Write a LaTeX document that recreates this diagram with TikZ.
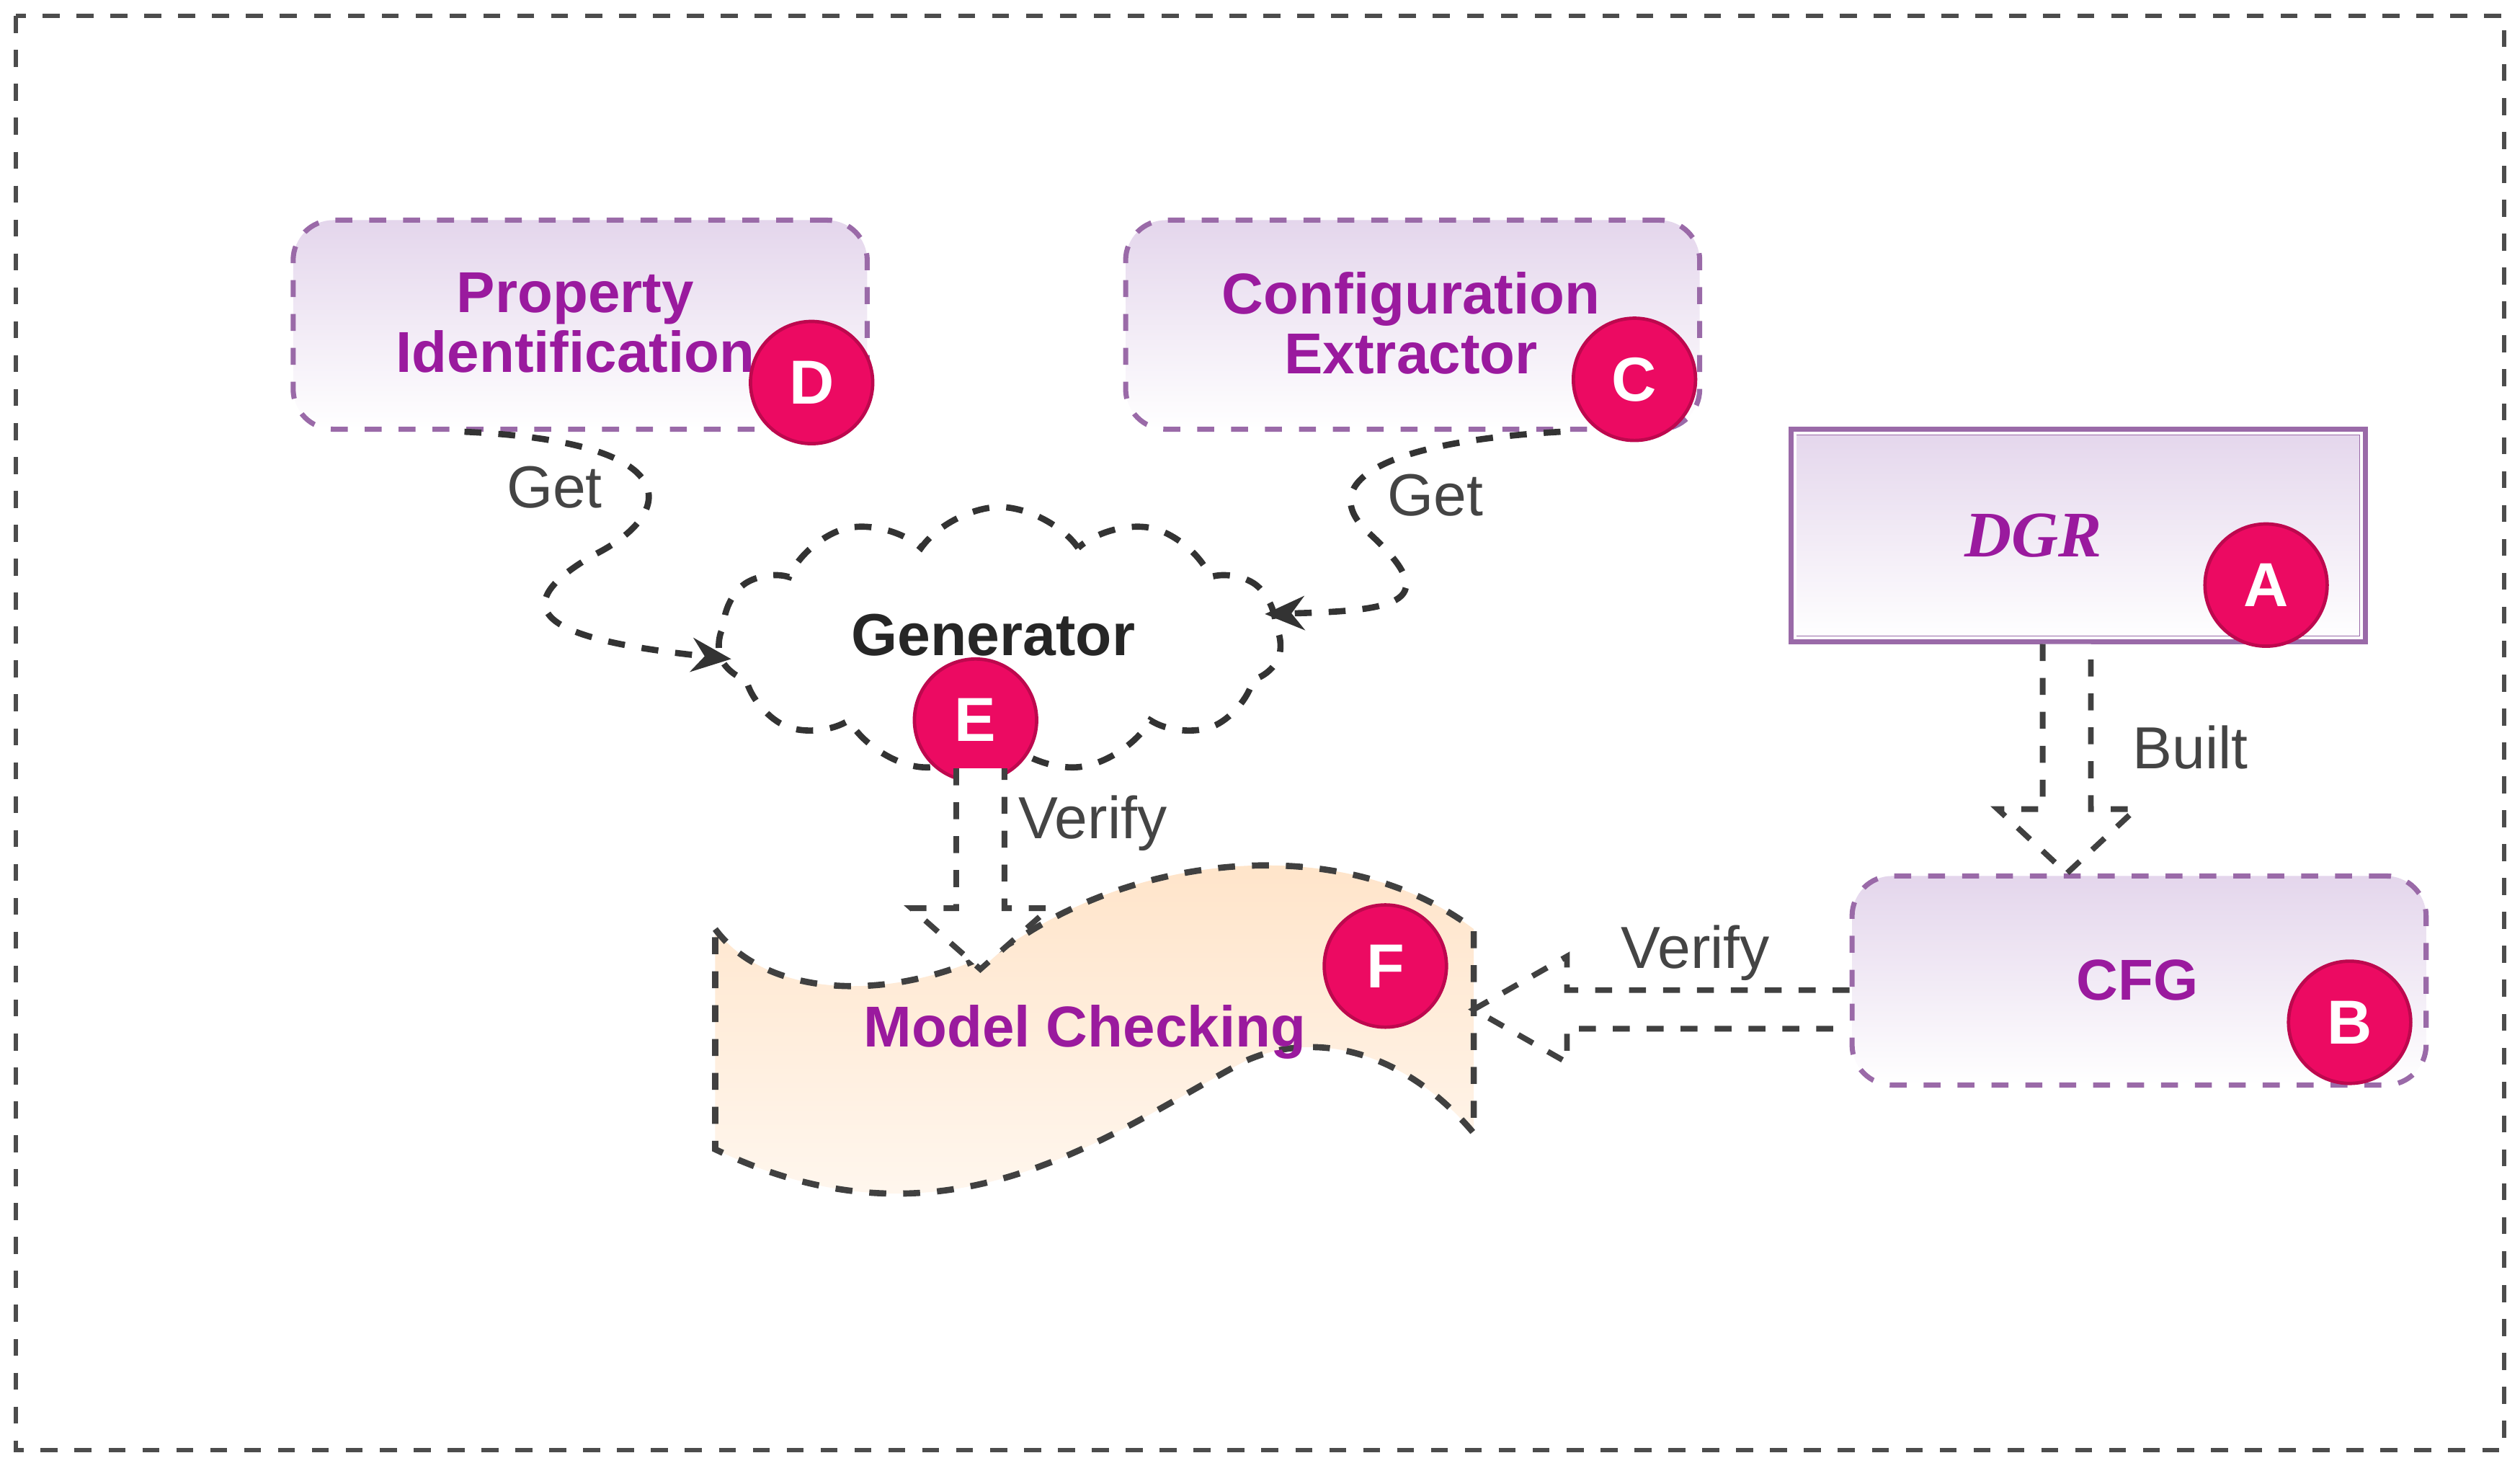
\documentclass[tikz,border=0pt]{standalone}
\usepackage{fontspec}
\setmainfont{Liberation Sans}
\usetikzlibrary{shapes.symbols,calc,arrows.meta}
\definecolor{ptext}{HTML}{9A1A9E}
\definecolor{pborder}{HTML}{9A6AA8}
\definecolor{badge}{HTML}{EC0A62}
\definecolor{ltxt}{HTML}{444444}
\definecolor{lav}{HTML}{E4D6EC}
\begin{document}
\begin{tikzpicture}[x=0.01cm,y=-0.01cm,
  box/.style={rectangle,rounded corners=0.25cm,draw=pborder,dashed,line width=0.9pt,
    top color=lav,bottom color=white,minimum width=3.57cm,minimum height=1.3cm},
  btxt/.style={font=\bfseries\fontsize{10.2}{10.6}\selectfont,text=ptext,align=center},
  badgeS/.style={circle,fill=badge,draw=badge!80!black,line width=0.6pt,minimum size=0.76cm,inner sep=0pt,
    text=white,font=\bfseries\fontsize{11}{11}\selectfont},
  lbl/.style={text=ltxt,font=\fontsize{10.5}{11}\selectfont},
  getarrow/.style={dashed,line width=1.1pt,black!80,-{Stealth[length=7pt,width=6pt]}},
  blk/.style={dashed,line width=1pt,black!75,fill=white}]
\useasboundingbox (0,0) rectangle (1568,915);
\draw[dashed,line width=0.8pt,black!70] (10,10) rectangle (1558,902);

% boxes
\node[box] (D) at (361,202) {};
\node[btxt] (Dt) at (358,201) {Property\\Identification};
\node[box] (C) at (879,202) {};
\node[btxt] (Ct) at (878,201) {Configuration\\Extractor};
\node[rectangle,draw=pborder,line width=1.5pt,top color=lav,bottom color=white,
  minimum width=3.55cm,minimum height=1.3cm] (A) at (1293,333) {};
\draw[white,line width=0.5pt] ($(A.south west)+(4,-4)$) rectangle ($(A.north east)+(-4,4)$);
\node[text=ptext,font=\fontsize{11.5}{12}\selectfont\bfseries\itshape\fontspec{Liberation Serif}] at (1265,333) {DGR};
\node[box] (B) at (1331,610) {};
\node[btxt] (Bt) at (1330,610) {CFG};

% cloud
\node[cloud,cloud puffs=11,cloud puff arc=110,aspect=2.3,draw,dashed,line width=1.1pt,black!80,
  minimum width=3.5cm,minimum height=1.65cm,inner sep=0pt] (G) at (622,398) {};
\node[font=\bfseries\fontsize{10.5}{11}\selectfont,text=black!85] (Gt) at (618,395) {Generator};

% model checking
\def\mcpath{(445,578) .. controls (480,625) and (570,625) .. (640,580)
  .. controls (720,530) and (840,520) .. (917,578) -- (917,705)
  .. controls (875,655) and (820,640) .. (775,660)
  .. controls (690,705) and (590,785) .. (445,715) -- cycle}
\path[top color=orange!22!white,bottom color=orange!4!white] \mcpath;
\draw[dashed,line width=1.1pt,black!75] \mcpath;
\coordinate (F) at (917,628);
\coordinate (Ftop) at (610,603);
\node[text=ptext,font=\bfseries\fontsize{10.2}{11}\selectfont] (Ft) at (675,642) {Model Checking};

% badges
\node[badgeS] (bD) at (505,238) {D};
\node[badgeS] (bC) at (1017,236) {C};
\node[badgeS] (bA) at (1410,364) {A};
\node[badgeS] (bB) at (1462,636) {B};
\node[badgeS] (bE) at (607,448) {E};
\node[badgeS] (bF) at (862,601) {F};

% get arrows
\coordinate (d1) at ($(D.south)+(-72,0)$);
\coordinate (g1) at (455,410);
\draw[getarrow] (d1) .. controls (430,275) and (420,320) .. (370,345)
  .. controls (300,385) and (360,400) .. (g1);
\node[lbl] at (345,303) {Get};
\coordinate (c1) at ($(C.south)+(92,0)$);
\coordinate (g2) at (787,382);
\draw[getarrow] (c1) .. controls (860,275) and (820,300) .. (850,330)
  .. controls (900,375) and (870,380) .. (g2);
\node[lbl] at (893,308) {Get};

% block arrows
\coordinate (Es) at (610,478);
\draw[blk] ($(Es)+(-15,0)$) -- ($(Ftop)+(-15,-38)$) -- ($(Ftop)+(-43,-38)$) -- (Ftop)
  -- ($(Ftop)+(43,-38)$) -- ($(Ftop)+(15,-38)$) -- ($(Es)+(15,0)$);
\node[lbl] at (680,512) {Verify};

\coordinate (As) at ($(A.south)+(-7,0)$);
\coordinate (Bn) at ($(B.north)+(-45,0)$);
\draw[blk] ($(As)+(-15,0)$) -- ($(Bn)+(-15,-40)$) -- ($(Bn)+(-43,-40)$) -- (Bn)
  -- ($(Bn)+(43,-40)$) -- ($(Bn)+(15,-40)$) -- ($(As)+(15,0)$);
\node[lbl] at (1363,465) {Built};

\coordinate (Bw) at ($(B.west)+(0,18)$);
\draw[blk] ($(Bw)+(0,-12)$) -- ($(F)+(58,-12)$) -- ($(F)+(58,-33)$) -- (F)
  -- ($(F)+(58,33)$) -- ($(F)+(58,12)$) -- ($(Bw)+(0,12)$);
\node[lbl] at (1055,593) {Verify};
\end{tikzpicture}
\end{document}
